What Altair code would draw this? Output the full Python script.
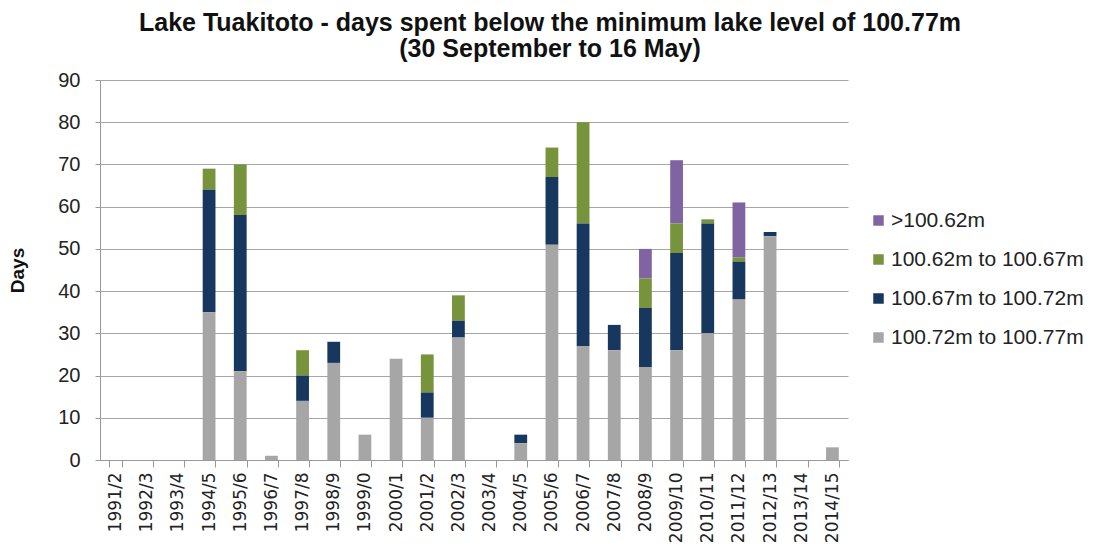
import altair as alt
import pandas as pd

seasons = ["1991/2", "1992/3", "1993/4", "1994/5", "1995/6", "1996/7", "1997/8", "1998/9",
           "1999/0", "2000/1", "2001/2", "2002/3", "2003/4", "2004/5", "2005/6", "2006/7",
           "2007/8", "2008/9", "2009/10", "2010/11", "2011/12", "2012/13", "2013/14", "2014/15"]

s_gray = [0, 0, 0, 35, 21, 1, 14, 23, 6, 24, 10, 29, 0, 4, 51, 27, 26, 22, 26, 30, 38, 53, 0, 3]
s_navy = [0, 0, 0, 29, 37, 0, 6, 5, 0, 0, 6, 4, 0, 2, 16, 29, 6, 14, 23, 26, 9, 1, 0, 0]
s_green = [0, 0, 0, 5, 12, 0, 6, 0, 0, 0, 9, 6, 0, 0, 7, 24, 0, 7, 7, 1, 1, 0, 0, 0]
s_purple = [0, 0, 0, 0, 0, 0, 0, 0, 0, 0, 0, 0, 0, 0, 0, 0, 0, 7, 15, 0, 13, 0, 0, 0]

series_names = [">100.62m", "100.62m to 100.67m", "100.67m to 100.72m", "100.72m to 100.77m"]
series_colors = ["#8064A2", "#77933C", "#17375E", "#A6A6A6"]
series_values = [s_purple, s_green, s_navy, s_gray]
stack_rank = [3, 2, 1, 0]

rows = []
for name, vals, rank in zip(series_names, series_values, stack_rank):
    for season, v in zip(seasons, vals):
        rows.append({"season": season, "series": name, "days": v, "rank": rank})
df = pd.DataFrame(rows)

chart = alt.Chart(df).mark_bar(stroke=None).encode(
    x=alt.X("season:N", sort=seasons, title=None,
            scale=alt.Scale(paddingInner=0.59, paddingOuter=0.295),
            axis=alt.Axis(labelAngle=-90, labelFontSize=17, labelFont="DejaVu Sans",
                          labelColor="#222222", tickBand="extent", tickSize=7,
                          tickColor="#999999", domainColor="#999999", labelPadding=5,
                          labelLimit=200, grid=False)),
    y=alt.Y("days:Q", stack="zero", title="Days",
            scale=alt.Scale(domain=[0, 90], nice=False),
            axis=alt.Axis(values=list(range(0, 100, 10)), labelFontSize=20,
                          labelFont="Liberation Sans", labelColor="#222222",
                          tickSize=5, tickColor="#999999", domainColor="#999999",
                          gridColor="#A6A6A6", gridWidth=1, labelPadding=15,
                          titleFont="Liberation Sans", titleFontSize=19,
                          titleFontWeight="bold", titleColor="#111111", titlePadding=30)),
    color=alt.Color("series:N", title=None,
                    scale=alt.Scale(domain=series_names, range=series_colors),
                    legend=alt.Legend(orient="none", legendX=768, legendY=130,
                                      symbolType="square", symbolSize=110,
                                      symbolStrokeWidth=0,
                                      labelFontSize=21, labelFont="Liberation Sans",
                                      labelColor="#222222", rowPadding=17,
                                      labelOffset=2, labelLimit=400)),
    order=alt.Order("rank:Q", sort="ascending"),
).properties(
    width=748,
    height=380,
    autosize=alt.AutoSizeParams(type="none"),
    padding={"left": 92, "top": 72, "right": 237, "bottom": 91},
    title=alt.TitleParams(
        ["Lake Tuakitoto - days spent below the minimum lake level of 100.77m",
         "(30 September to 16 May)"],
        font="Liberation Sans", fontSize=25, fontWeight="bold", color="#111111",
        anchor="middle", dx=76, offset=8, lineHeight=26),
).configure_view(stroke=None)

chart.save("out.html", embed_options={"renderer": "svg", "actions": False})
